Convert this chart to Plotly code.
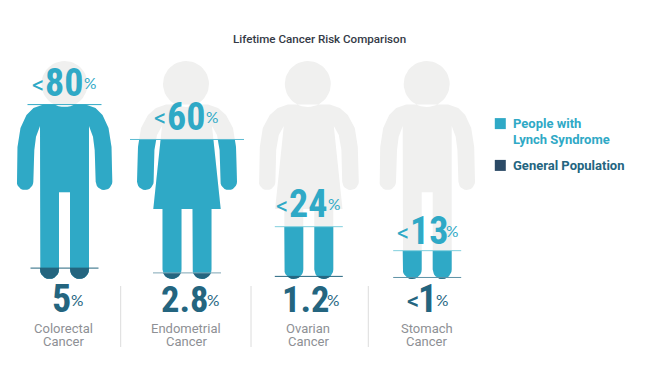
import math
import plotly.graph_objects as go

# ---------- data ----------
cancers = ["Colorectal", "Endometrial", "Ovarian", "Stomach"]
lynch_labels = ["80", "60", "24", "13"]
lynch_prefix = ["<", "<", "<", "<"]
general_labels = ["5", "2.8", "1.2", "1"]
general_prefix = ["", "", "", "<"]
# fill levels as drawn in the picture (the 60 figure is filled to about 64)
lynch_levels = [80, 64, 24, 13]
general_levels = [5, 2.8, 1.2, 0.7]
figure_kind = ["male", "female", "female", "male"]

# ---------- styling / layout ----------
TEAL = "#2fa9c6"
DARK = "#24657f"
GRAY = "#f0f0ef"
TEXTGRAY = "#8e9095"
W, H = 655, 378
Y0, SCALE = 279.0, 2.18          # pixel row of 0 %, pixels per 1 %
centers = [64.5, 187.0, 308.8, 427.2]
head_dx = [0, -1, -1, -0.5]
risk_halfwidth = [37, 57, 34, 34]
dividers = [120.7, 251, 368.3]
NUM = "Roboto Condensed"
ROB = "Roboto"
THIN = "Lato"


def ry(py):
    return (Y0 - py) / SCALE


def arc(cx, cy, r, a0, a1, n=14):
    return [(cx + r * math.cos(math.radians(a0 + (a1 - a0) * i / n)),
             cy + r * math.sin(math.radians(a0 + (a1 - a0) * i / n))) for i in range(n + 1)]


def glyph(kind):
    """Silhouette outline in (dx px, y px) around the figure's centre."""
    if kind == "male":
        arm = [(-21, 104.6), (-31, 108), (-38, 115), (-44, 128), (-47, 147), (-47.8, 181.7)]
        arm += arc(-39.5, 181.7, 8.3, 180, 0, 12)[1:]
        arm += [(-30.2, 150), (-28.5, 136.7), (-24.5, 126)]
    else:
        arm = [(-21, 104.6), (-31, 108), (-39, 115), (-46, 128), (-49, 147), (-50, 181.7)]
        arm += arc(-41.7, 181.7, 8.3, 180, 0, 12)[1:]
        arm += [(-32.6, 150), (-30, 135), (-25, 126)]
    leg_l = arc(-15, 269.5, 9.5, 180, 0, 12)
    if kind == "male":
        crotch = 192.3
        left = arm + leg_l + [(-5.5, crotch)]
    else:
        crotch = 209
        left = arm + [(-33.7, crotch), (-24.5, crotch)] + leg_l + [(-5.5, crotch)]
    right = [(-x, y) for x, y in reversed(left)]
    return left + right


def head(dx):
    return arc(dx, 84, 23, 0, 360, 48)


def clip(poly, level):
    """Keep the part of a polygon (in % units) at or below level."""
    out = []
    for i in range(len(poly)):
        a, b = poly[i], poly[(i + 1) % len(poly)]
        ina, inb = a[1] <= level, b[1] <= level
        if ina:
            out.append(a)
        if ina != inb:
            t = (level - a[1]) / (b[1] - a[1])
            out.append((a[0] + t * (b[0] - a[0]), level))
    return out


def layer(i, level, color, name):
    xs, ys = [], []
    for part in (glyph(figure_kind[i]), head(head_dx[i])):
        poly = [(centers[i] + x, ry(y)) for x, y in part]
        if level is not None:
            poly = clip(poly, level)
        if poly:
            xs += [p[0] for p in poly] + [poly[0][0], None]
            ys += [p[1] for p in poly] + [poly[0][1], None]
    return go.Scatter(x=xs, y=ys, mode="lines", fill="toself", fillcolor=color,
                      line=dict(width=0, color=color), name=name, showlegend=False,
                      hoverinfo="skip")


fig = go.Figure()
for i in range(4):
    fig.add_trace(layer(i, None, GRAY, "Silhouette"))
for i in range(4):
    fig.add_trace(layer(i, lynch_levels[i], TEAL, "People with Lynch Syndrome"))
for i in range(4):
    fig.add_trace(layer(i, general_levels[i], DARK, "General Population"))

risk_line_colors = [TEAL, "#5cbcd2", "#80cfdd", "#80cfdd"]
general_line_colors = [DARK, "#7fa6b5", DARK, "#5f93a6"]
for i in range(4):
    c = centers[i]
    fig.add_trace(go.Scatter(x=[c - risk_halfwidth[i], c + risk_halfwidth[i]],
                             y=[lynch_levels[i]] * 2, mode="lines",
                             line=dict(color=risk_line_colors[i], width=1),
                             showlegend=False, hoverinfo="skip"))
    fig.add_trace(go.Scatter(x=[c - 34, c + 34], y=[general_levels[i]] * 2, mode="lines",
                             line=dict(color=general_line_colors[i], width=1),
                             showlegend=False, hoverinfo="skip"))
for d in dividers:
    fig.add_trace(go.Scatter(x=[d, d], y=[ry(286), ry(347)], mode="lines",
                             line=dict(color="#dcdcdc", width=1),
                             showlegend=False, hoverinfo="skip"))

# legend swatches
fig.add_trace(go.Scatter(x=[500.3], y=[ry(123.6)], mode="markers",
                         marker=dict(symbol="square", size=11, color=TEAL),
                         showlegend=False, hoverinfo="skip"))
fig.add_trace(go.Scatter(x=[500.3], y=[ry(165.4)], mode="markers",
                         marker=dict(symbol="square", size=11, color="#2b4a66"),
                         showlegend=False, hoverinfo="skip"))

ann = []


def text(s, px, py, size, color, family, weight="normal", anchor="center"):
    ann.append(dict(x=px, y=ry(py), text=s, showarrow=False, xanchor=anchor, yanchor="middle",
                    font=dict(size=size, color=color, family=family, weight=weight),
                    xref="x", yref="y", borderpad=0, borderwidth=0))


text("Lifetime Cancer Risk Comparison", 319, 38.5, 11.6, "#343a46", ROB, 500)

top_y = [83, 116.7, 204, 231]
top_num_x = [64, 185.7, 307.5, 429]
top_lt_x = [38, 159.7, 282, 403.3]
top_pct_x = [90, 211.7, 333.7, 451.5]
bot_num_x = [61.3, 184.8, 306.3, 427.3]
bot_pct_x = [77.3, 213.2, 333.2, 441.5]
for i in range(4):
    text(lynch_labels[i], top_num_x[i], top_y[i], 38, TEAL, NUM, 700)
    text(lynch_prefix[i], top_lt_x[i], top_y[i] + 1.5, 24, TEAL, ROB)
    text("%", top_pct_x[i], top_y[i], 15.5, TEAL, THIN)
    gsize = 36.5 if "." in general_labels[i] else 38
    text(general_labels[i], bot_num_x[i], 299, gsize, DARK, NUM, 700)
    text("%", bot_pct_x[i], 300, 15.5, DARK, THIN)
    if general_prefix[i]:
        text(general_prefix[i], 412.7, 301, 24, DARK, ROB, 500)
    text(cancers[i], centers[i] - 0.7, 328, 13, TEXTGRAY, ROB)
    text("Cancer", centers[i] - 0.7, 341.7, 13, TEXTGRAY, ROB)

text("People with", 513.3, 123, 13, TEAL, ROB, 700, "left")
text("Lynch Syndrome", 513.3, 139, 13, TEAL, ROB, 700, "left")
text("General Population", 513.3, 165.7, 13, DARK, ROB, 700, "left")

fig.update_layout(
    width=W, height=H, margin=dict(l=0, r=0, t=0, b=0),
    paper_bgcolor="white", plot_bgcolor="white", showlegend=False, annotations=ann,
    xaxis=dict(range=[0, W], visible=False, fixedrange=True),
    yaxis=dict(range=[ry(H), ry(0)], visible=False, fixedrange=True),
)
fig.write_html("out.html", config={"displayModeBar": False},
               post_script="document.body.style.margin='0';document.documentElement.style.overflow='hidden';")
